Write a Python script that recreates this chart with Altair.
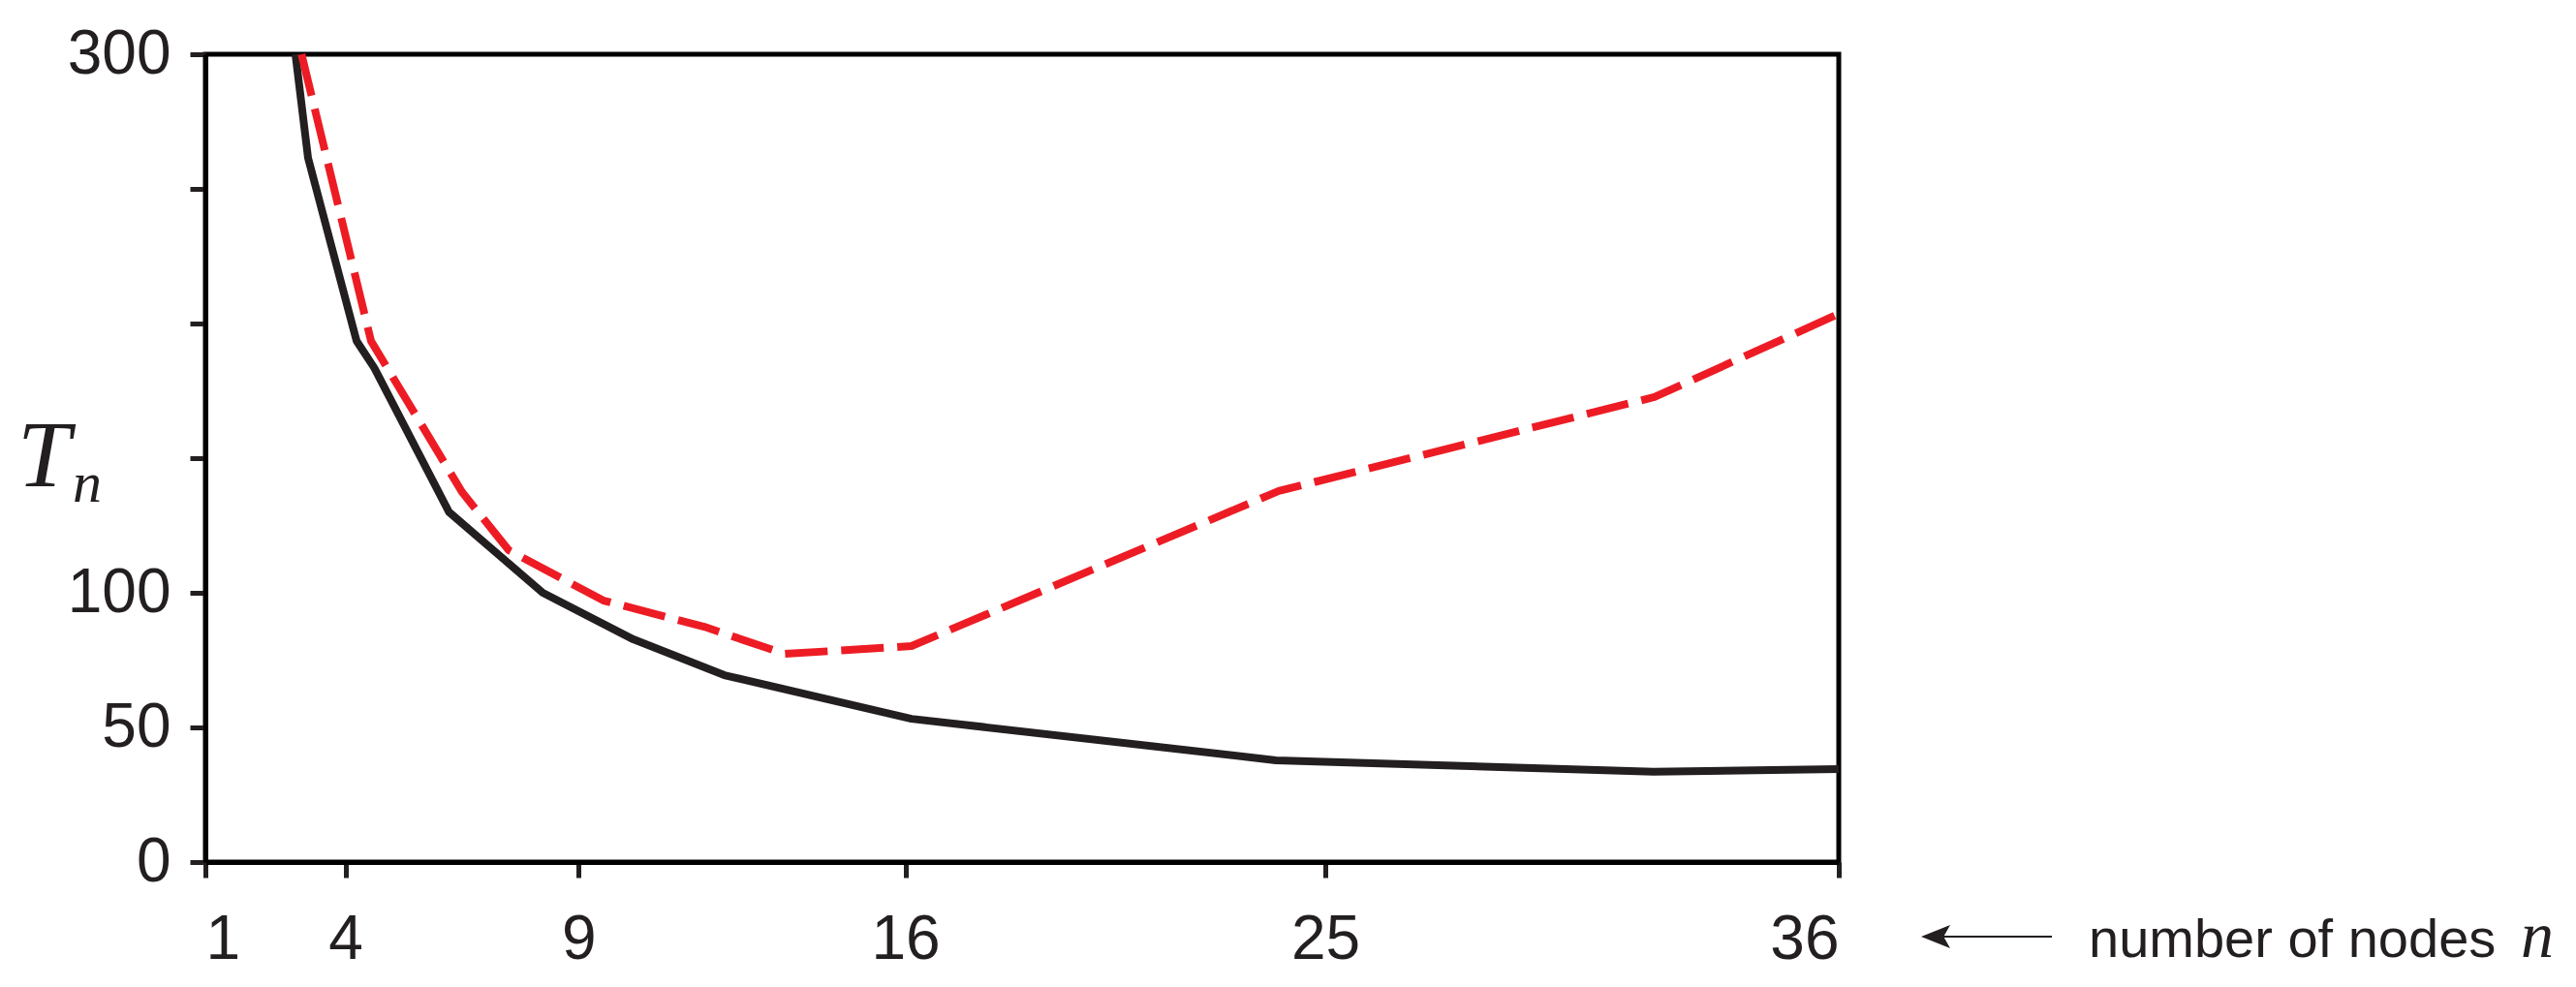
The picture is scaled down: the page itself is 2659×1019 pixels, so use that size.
import altair as alt
import pandas as pd

# ---- data ----
black_n = [2.93, 3.2, 4.24, 4.62, 6.22, 8.23, 10.17, 12.12, 16.13, 23.94, 32.03, 36.0]
black_T = [300, 261.5, 193.5, 183.5, 130, 100, 82.7, 69.4, 53.2, 37.8, 33.5, 34.5]

red_n = [3.06, 4.55, 6.5, 7.5, 9.53, 11.69, 13.41, 16.13, 24.0, 32.05, 36.0]
red_T = [300, 193.5, 137.4, 115.8, 97.1, 87.4, 77.3, 80.2, 137.8, 172.7, 203.6]

x_ticks = [1, 4, 9, 16, 25, 36]
y_ticks = [0, 50, 100, 150, 200, 250, 300]

W, H = 1686, 834

black_df = pd.DataFrame({"n": black_n, "T": black_T})
red_df = pd.DataFrame({"n": red_n, "T": red_T})
one = pd.DataFrame({"a": [0]})

TICK_FONT = "Liberation Sans Narrow, Arial Narrow, Liberation Sans, Arial"

x_enc = alt.X(
    "n:Q",
    scale=alt.Scale(domain=[1, 36], nice=False, zero=False),
    axis=alt.Axis(values=x_ticks, title=None, grid=False),
)
y_enc = alt.Y(
    "T:Q",
    scale=alt.Scale(domain=[0, 300], nice=False, zero=True),
    axis=alt.Axis(
        values=y_ticks,
        title=None,
        grid=False,
        labelExpr="indexof([150,200,250], datum.value) >= 0 ? '' : datum.label",
    ),
)

black = alt.Chart(black_df).mark_line(
    color="#231f20", strokeWidth=8, strokeJoin="round"
).encode(x=x_enc, y=y_enc)

red = alt.Chart(red_df).mark_line(
    color="#ed1c24", strokeWidth=8, strokeDash=[44, 14], strokeJoin="round"
).encode(x=x_enc, y=y_enc)

# y-axis label T_n
t_big = alt.Chart(one).mark_text(
    text="T", font="Liberation Serif", fontStyle="italic", fontSize=98,
    align="left", baseline="alphabetic", color="#231f20",
).encode(x=alt.value(-194), y=alt.value(446))
t_sub = alt.Chart(one).mark_text(
    text="n", font="Liberation Serif", fontStyle="italic", fontSize=60,
    align="left", baseline="alphabetic", color="#231f20",
).encode(x=alt.value(-137), y=alt.value(462))

# annotation: <- number of nodes n
arrow_line = alt.Chart(one).mark_rule(color="#231f20", strokeWidth=2).encode(
    x=alt.value(1790), x2=alt.value(1906), y=alt.value(911)
)
arrow_head = alt.Chart(one).mark_point(
    shape="M -1 0 L 1 -0.8 L 0.55 0 L 1 0.8 Z",
    filled=True, color="#231f20", opacity=1, size=900,
).encode(x=alt.value(1786), y=alt.value(911))
ann_text = alt.Chart(one).mark_text(
    text="number of nodes", font="Liberation Sans", fontSize=56,
    align="left", baseline="alphabetic", color="#231f20",
).encode(x=alt.value(1944), y=alt.value(932))
ann_n = alt.Chart(one).mark_text(
    text="n", font="Liberation Serif", fontStyle="italic", fontSize=68,
    align="left", baseline="alphabetic", color="#231f20",
).encode(x=alt.value(2390), y=alt.value(932))

chart = alt.layer(
    black, red, t_big, t_sub, arrow_line, arrow_head, ann_text, ann_n
).properties(
    width=W, height=H,
    autosize=alt.AutoSizeParams(type="none"),
    padding={"left": 204, "top": 48, "right": 748, "bottom": 120},
).configure_view(
    stroke="#000000", strokeWidth=5
).configure_axis(
    domainColor="#000000", domainWidth=5,
    tickColor="#231f20", tickWidth=5, tickSize=16,
    labelFont=TICK_FONT, labelFontSize=64, labelColor="#231f20",
).configure_axisX(labelBaseline="top", labelPadding=32).configure_axisY(labelPadding=20)

chart.save("out.html", embed_options={"renderer": "svg", "actions": False})
